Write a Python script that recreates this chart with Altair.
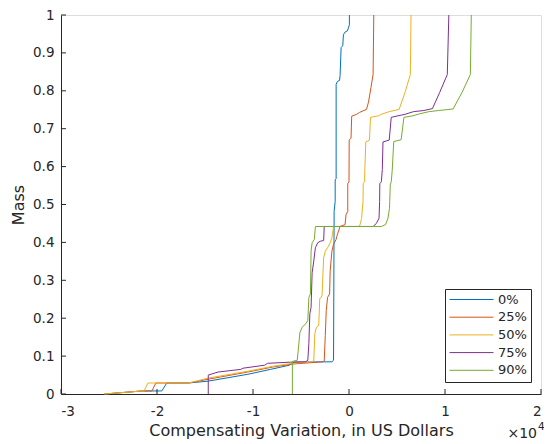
import altair as alt
import pandas as pd

# ---- data (x in US dollars, y = cumulative mass) ----
series = ["0%", "25%", "50%", "75%", "90%"]
colors = ["#0072BD", "#D95319", "#EDB120", "#7E2F8E", "#77AC30"]

cv_0 = [-25470, -21560, -19500, -18980, -16720, -14660, -10540, -8170, -6210, -5700,
        -1780, -1610, -1550, -1440, -1440, -1340, -1340, -1200, -990, -930,
        -820, -650, -580, -410, -170, -60, 40, 40]
mass_0 = [0, 0.008, 0.008, 0.029, 0.029, 0.034, 0.052, 0.065, 0.076, 0.084,
          0.085, 0.089, 0.482, 0.508, 0.565, 0.568, 0.817, 0.825, 0.827, 0.840,
          0.914, 0.919, 0.948, 0.955, 0.958, 0.966, 0.974, 1.0]

cv_25 = [-25470, -21560, -20530, -20120, -16720, -14660, -10540, -7960, -5900, -2710,
         -2580, -2470, -2370, -2230, -2020, -1960, -1780, -1610, -1340, -1270,
         -930, -410, -310, -130, -130, 0, 20, 210, 280, 790,
         1100, 1820, 2030, 2290, 2510, 2580]
mass_25 = [0, 0.008, 0.008, 0.029, 0.029, 0.039, 0.058, 0.071, 0.079, 0.085,
           0.087, 0.154, 0.220, 0.255, 0.264, 0.325, 0.377, 0.395, 0.408, 0.416,
           0.442, 0.447, 0.473, 0.482, 0.555, 0.560, 0.670, 0.675, 0.733, 0.738,
           0.743, 0.751, 0.770, 0.809, 0.843, 1.0]

cv_50 = [-25470, -21560, -21350, -20940, -16720, -14660, -10540, -7960, -5900, -3950,
         -3670, -3560, -3400, -3150, -3050, -2810, -2640, -2470, -2230, -1960,
         -1780, -1610, 970, 1130, 1310, 1460, 1480, 1620, 1650, 1750,
         2130, 2240, 3060, 3370, 4190, 5220, 5840, 6390, 6460]
mass_50 = [0, 0.008, 0.008, 0.029, 0.029, 0.042, 0.060, 0.073, 0.081, 0.085,
           0.087, 0.159, 0.176, 0.181, 0.251, 0.259, 0.359, 0.377, 0.386, 0.399,
           0.412, 0.442, 0.442, 0.445, 0.463, 0.508, 0.555, 0.560, 0.592, 0.665,
           0.670, 0.730, 0.734, 0.738, 0.745, 0.751, 0.796, 0.843, 1.0]

cv_75 = [-14660, -14660, -13630, -11260, -11050, -8790, -8480, -6110, -4530, -4290,
         -4180, -4080, -3950, -3840, -3670, -3500, -3260, -2990, -2640, -2580,
         2510, 2850, 3130, 3190, 3210, 3370, 3470, 3540, 4190, 4400,
         5090, 5840, 6720, 7800, 8690, 9450, 10240, 10400]
mass_75 = [0, 0.050, 0.058, 0.065, 0.068, 0.076, 0.081, 0.084, 0.085, 0.089,
           0.134, 0.212, 0.229, 0.320, 0.351, 0.386, 0.399, 0.403, 0.405, 0.442,
           0.442, 0.450, 0.464, 0.508, 0.555, 0.560, 0.592, 0.665, 0.670, 0.730,
           0.734, 0.738, 0.745, 0.748, 0.753, 0.796, 0.843, 1.0]

cv_90 = [-5900, -5900, -5390, -5110, -4870, -4530, -4290, -4180, -4020, -3950,
         -3840, -3610, -3500, 3370, 3810, 4060, 4220, 4240, 4300, 4400,
         4500, 4660, 5120, 5430, 5720, 6660, 7310, 8340, 9340, 10840,
         11780, 12640, 12740]
mass_90 = [0, 0.086, 0.089, 0.163, 0.176, 0.185, 0.194, 0.255, 0.264, 0.377,
           0.399, 0.408, 0.442, 0.442, 0.447, 0.464, 0.490, 0.508, 0.552, 0.560,
           0.589, 0.666, 0.669, 0.671, 0.730, 0.734, 0.739, 0.745, 0.748, 0.752,
           0.796, 0.843, 1.0]

x_ticks = [-30000, -20000, -10000, 0, 10000, 20000]
y_ticks = [0, 0.1, 0.2, 0.3, 0.4, 0.5, 0.6, 0.7, 0.8, 0.9, 1]

x_title = "Compensating Variation, in US Dollars"
y_title = "Mass"

# ---- build table ----
rows = []
for k, (name, xs, ys) in enumerate(zip(series,
                                       [cv_0, cv_25, cv_50, cv_75, cv_90],
                                       [mass_0, mass_25, mass_50, mass_75, mass_90])):
    for i, (x, y) in enumerate(zip(xs, ys)):
        rows.append({"series": name, "cv": x, "mass": y, "i": i, "k": k})
df = pd.DataFrame(rows)

W, H = 480, 379
FONT = "DejaVu Sans"
INK = "#262626"

xscale = alt.Scale(domain=[-30000, 20000], nice=False, zero=False)
yscale = alt.Scale(domain=[0, 1], nice=False)

axis_style = dict(ticks=False, grid=False, labelFont=FONT, titleFont=FONT,
                  titleFontWeight="normal", labelColor=INK, titleColor=INK,
                  domainColor=INK, domainWidth=1,
                  labelFontSize=13.5, titleFontSize=16)
x_axis = alt.Axis(values=x_ticks, labelExpr="datum.value / 10000",
                  title=x_title, labelPadding=10, titlePadding=5, **axis_style)
y_axis = alt.Axis(values=y_ticks, format="~g", title=y_title,
                  labelPadding=7, titlePadding=6, **axis_style)

lines = alt.Chart(df).mark_line(strokeWidth=1).encode(
    x=alt.X("cv:Q", scale=xscale, axis=x_axis),
    y=alt.Y("mass:Q", scale=yscale, axis=y_axis),
    color=alt.Color("series:N", scale=alt.Scale(domain=series, range=colors),
                    legend=alt.Legend(orient="none", legendX=384, legendY=274,
                                      title=None, symbolType="stroke",
                                      symbolSize=1936, symbolStrokeWidth=1,
                                      clipHeight=13, rowPadding=3.7, padding=4,
                                      labelOffset=4, labelFontSize=13,
                                      labelFont=FONT, labelColor=INK,
                                      strokeColor=INK, fillColor="white")),
    order="i:Q",
)

xt = alt.Chart(pd.DataFrame({"cv": x_ticks})).mark_rule(color=INK, strokeWidth=1).encode(
    x=alt.X("cv:Q", scale=xscale, axis=x_axis),
    y=alt.value(H), y2=alt.value(H - 5))
yt = alt.Chart(pd.DataFrame({"mass": y_ticks})).mark_rule(color=INK, strokeWidth=1).encode(
    y=alt.Y("mass:Q", scale=yscale, axis=y_axis),
    x=alt.value(0), x2=alt.value(5))

mult = alt.Chart(pd.DataFrame({"t": ["×10"]})).mark_text(
    align="right", baseline="middle", fontSize=14, font=FONT, color=INK).encode(
    text="t:N", x=alt.value(476), y=alt.value(419))
expo = alt.Chart(pd.DataFrame({"t": ["4"]})).mark_text(
    align="left", baseline="middle", fontSize=10.5, font=FONT, color=INK).encode(
    text="t:N", x=alt.value(477), y=alt.value(412))

chart = alt.layer(lines, xt, yt, mult, expo).properties(
    width=W, height=H,
    autosize=alt.AutoSizeParams(type="none"),
    padding={"left": 53, "top": 7, "right": 3, "bottom": 50},
).configure_view(stroke=None).configure(background="white")

chart.save("out.html", embed_options={"renderer": "svg", "actions": False})
